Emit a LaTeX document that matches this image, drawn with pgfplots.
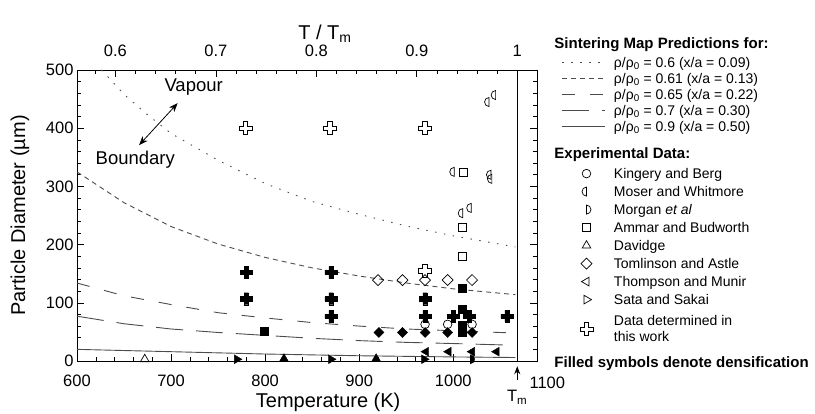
\documentclass[border=0pt]{standalone}
\usepackage{pgfplots}
\pgfplotsset{compat=1.18}
\usetikzlibrary{arrows.meta}
\usepackage{fontspec}
\setmainfont{Liberation Sans}

% marks
\pgfdeclareplotmark{moser}{%
  \pgfpathmoveto{\pgfqpoint{0pt}{\pgfplotmarksize}}%
  \pgfpatharc{90}{270}{\pgfplotmarksize}%
  \pgfpathclose\pgfusepathqstroke}
\pgfdeclareplotmark{morgan}{%
  \pgfpathmoveto{\pgfqpoint{0pt}{-\pgfplotmarksize}}%
  \pgfpatharc{-90}{90}{\pgfplotmarksize}%
  \pgfpathclose\pgfusepathqstroke}
\pgfdeclareplotmark{morgan*}{%
  \pgfpathmoveto{\pgfqpoint{0pt}{-\pgfplotmarksize}}%
  \pgfpatharc{-90}{90}{\pgfplotmarksize}%
  \pgfpathclose\pgfusepathqfillstroke}
\pgfdeclareplotmark{dia}{%
  \pgfpathmoveto{\pgfqpoint{0pt}{\pgfplotmarksize}}%
  \pgfpathlineto{\pgfqpoint{\pgfplotmarksize}{0pt}}%
  \pgfpathlineto{\pgfqpoint{0pt}{-\pgfplotmarksize}}%
  \pgfpathlineto{\pgfqpoint{-\pgfplotmarksize}{0pt}}%
  \pgfpathclose\pgfusepathqstroke}
\pgfdeclareplotmark{dia*}{%
  \pgfpathmoveto{\pgfqpoint{0pt}{\pgfplotmarksize}}%
  \pgfpathlineto{\pgfqpoint{\pgfplotmarksize}{0pt}}%
  \pgfpathlineto{\pgfqpoint{0pt}{-\pgfplotmarksize}}%
  \pgfpathlineto{\pgfqpoint{-\pgfplotmarksize}{0pt}}%
  \pgfpathclose\pgfusepathqfillstroke}
\newcommand\crosspath{%
  \pgfpathmoveto{\pgfpoint{0.35\pgfplotmarksize}{\pgfplotmarksize}}%
  \pgfpathlineto{\pgfpoint{0.35\pgfplotmarksize}{0.35\pgfplotmarksize}}%
  \pgfpathlineto{\pgfpoint{\pgfplotmarksize}{0.35\pgfplotmarksize}}%
  \pgfpathlineto{\pgfpoint{\pgfplotmarksize}{-0.35\pgfplotmarksize}}%
  \pgfpathlineto{\pgfpoint{0.35\pgfplotmarksize}{-0.35\pgfplotmarksize}}%
  \pgfpathlineto{\pgfpoint{0.35\pgfplotmarksize}{-\pgfplotmarksize}}%
  \pgfpathlineto{\pgfpoint{-0.35\pgfplotmarksize}{-\pgfplotmarksize}}%
  \pgfpathlineto{\pgfpoint{-0.35\pgfplotmarksize}{-0.35\pgfplotmarksize}}%
  \pgfpathlineto{\pgfpoint{-\pgfplotmarksize}{-0.35\pgfplotmarksize}}%
  \pgfpathlineto{\pgfpoint{-\pgfplotmarksize}{0.35\pgfplotmarksize}}%
  \pgfpathlineto{\pgfpoint{-0.35\pgfplotmarksize}{0.35\pgfplotmarksize}}%
  \pgfpathlineto{\pgfpoint{-0.35\pgfplotmarksize}{\pgfplotmarksize}}%
  \pgfpathclose}
\pgfdeclareplotmark{pcross}{\crosspath\pgfusepathqstroke}
\pgfdeclareplotmark{pcross*}{\crosspath\pgfusepathqfillstroke}

% strut: height, depth
\newcommand\st[2]{\rule[-#2]{0pt}{\dimexpr#1+#2\relax}}
\newcommand\hdr[1]{\makebox[0pt][l]{\hspace*{-60bp}\fontsize{15bp}{17bp}\selectfont\bfseries #1}}

\begin{document}
\begin{tikzpicture}
\path[use as bounding box] (0,0) rectangle (815bp,414bp);

% top axis: T / Tm
\begin{axis}[
  at={(77bp,53bp)}, anchor=south west, scale only axis,
  width=460bp, height=291bp,
  xmin=600, xmax=1089, ymin=0, ymax=500,
  axis x line*=top, axis y line=none,
  xtick={640.8,747.6,854.4,961.2,1068},
  xticklabels={0.6,0.7,0.8,0.9,1},
  minor xtick={619.44,662.16,683.52,704.88,726.24,768.96,790.32,811.68,833.04,875.76,897.12,918.48,939.84,982.56,1003.92,1025.28,1046.64},
  tick align=inside, major tick length=7bp, minor tick length=4bp,
  tick style={black, line width=0.6bp},
  ticklabel style={font=\fontsize{16.5bp}{19bp}\selectfont},
  xticklabel style={yshift=10bp},
  /pgf/number format/assume math mode=true,
  xlabel={T / T\textsubscript{m}},
  xlabel style={font=\fontsize{20bp}{24bp}\selectfont, at={(axis description cs:0.539,1.082)}, anchor=south},
]
\end{axis}

\begin{axis}[
  at={(77bp,53bp)}, anchor=south west, scale only axis,
  width=460bp, height=291bp,
  xmin=600, xmax=1089, ymin=0, ymax=500,
  xtick={600,700,800,900,1000}, minor x tick num=4, xtick pos=bottom,
  ytick={0,100,200,300,400,500}, minor y tick num=4,
  tick align=inside, major tick length=7bp, minor tick length=4bp,
  tick style={black, line width=0.6bp},
  axis line style={line width=0.8bp},
  ticklabel style={font=\fontsize{16.5bp}{19bp}\selectfont},
  xticklabel style={yshift=-10bp},
  /pgf/number format/assume math mode=true,
  /pgf/number format/1000 sep={},
  xlabel={Temperature (K)},
  ylabel={Particle Diameter (µm)},
  xlabel style={font=\fontsize{20bp}{24bp}\selectfont, at={(axis description cs:0.546,-0.141)}, anchor=center},
  ylabel style={font=\fontsize{20bp}{24bp}\selectfont, at={(axis description cs:-0.124,0.5)}, anchor=center},
  clip=false,
  legend cell align=left,
  legend image code/.code={\draw[yshift=5bp,mark repeat=2,mark phase=2,#1] plot coordinates {(0bp,0bp) (24bp,0bp) (43bp,0bp)};},
  legend style={draw=none, fill=none, at={(1.054,1.1155)}, anchor=north west,
    inner sep=0pt, font=\fontsize{14bp}{16bp}\selectfont, column sep=8bp, row sep=0pt,
    cells={anchor=base west}, nodes={inner sep=0pt, text depth=}},
]

\addlegendimage{empty legend}
\addlegendentry{\st{12bp}{8bp}\hdr{Sintering Map Predictions for:}}

% sintering map predictions
\addplot[no marks, black!70, line width=0.9bp, dash pattern=on 1.5bp off 7.5bp] coordinates {
  (626,500) (650,458) (675,423) (700,391) (750,345) (800,305) (850,274)
  (900,252) (950,232) (1000,215) (1066,196)
};
\addlegendentry{\st{11bp}{5bp}ρ/ρ\textsubscript{0} = 0.6 (x/a = 0.09)}
\addplot[no marks, black!70, line width=0.9bp, dash pattern=on 5bp off 4bp] coordinates {
  (600,325) (650,272) (700,231) (750,201) (800,178) (850,160) (900,146)
  (950,134) (1000,124) (1066,114)
};
\addlegendentry{\st{11bp}{5bp}ρ/ρ\textsubscript{0} = 0.61 (x/a = 0.13)}
\addplot[no marks, black!70, line width=0.9bp, dash pattern=on 13bp off 15bp] coordinates {
  (600,134) (650,112) (700,97) (750,83) (800,74) (850,66) (900,60)
  (950,55) (1000,52) (1066,48)
};
\addlegendentry{\st{11bp}{5bp}ρ/ρ\textsubscript{0} = 0.65 (x/a = 0.22)}
\addplot[no marks, black!70, line width=0.9bp, dash pattern=on 27bp off 13bp] coordinates {
  (600,77) (650,64) (700,55) (750,49) (800,44) (850,39) (900,35)
  (950,32) (1000,30) (1066,27)
};
\addlegendentry{\st{11bp}{5bp}ρ/ρ\textsubscript{0} = 0.7 (x/a = 0.30)}
\addplot[no marks, black!70, line width=0.9bp] coordinates {
  (600,20) (700,16) (800,12) (900,9) (1000,7) (1066,6)
};
\addlegendentry{\st{11bp}{5bp}ρ/ρ\textsubscript{0} = 0.9 (x/a = 0.50)}

\addlegendimage{empty legend}
\addlegendentry{\st{22bp}{8bp}\hdr{Experimental Data:}}

% experimental data, open symbols
\addplot[only marks, mark=o, mark size=4.3bp, mark options={black, line width=0.7bp}] coordinates {
  (970,63) (994,63) (1020,63)
};
\addlegendentry{\st{12bp}{6bp}Kingery and Berg}
\addplot[only marks, mark=moser, mark size=4.5bp, mark options={black, line width=0.7bp}] coordinates {
  (1038,445) (1045,457) (1001,325) (1040,320) (1041,313) (1010,254) (1019,263)
};
\addlegendentry{\st{12bp}{6bp}Moser and Whitmore}
\addlegendimage{only marks, mark=morgan, mark size=4.5bp, mark options={black, line width=0.7bp}}
\addlegendentry{\st{12bp}{6bp}Morgan \textit{et al}}
\addplot[only marks, mark=square, mark size=4bp, mark options={black, line width=0.7bp}] coordinates {
  (1011,325) (1010,230) (1010,180)
};
\addlegendentry{\st{12bp}{6bp}Ammar and Budworth}
\addplot[only marks, mark=triangle, mark size=5bp, mark options={black, line width=0.7bp}] coordinates {
  (672,3)
};
\addlegendentry{\st{12bp}{6bp}Davidge}
\addplot[only marks, mark=dia, mark size=5.5bp, mark options={black, line width=0.7bp}] coordinates {
  (920,139) (946,139) (970,139) (994,139) (1020,139)
};
\addlegendentry{\st{12bp}{6bp}Tomlinson and Astle}
\addlegendimage{only marks, mark=triangle, mark size=5bp, mark options={black, line width=0.7bp, rotate=90}}
\addlegendentry{\st{12bp}{6bp}Thompson and Munir}
\addlegendimage{only marks, mark=triangle, mark size=5bp, mark options={black, line width=0.7bp, rotate=-90}}
\addlegendentry{\st{12bp}{10bp}Sata and Sakai}
\addplot[only marks, mark=pcross, mark size=6.5bp, mark options={black, line width=0.7bp}] coordinates {
  (779,400) (869,400) (970,400) (970,155)
};
\addlegendentry{\begin{tabular}[c]{@{}l@{}}Data determined in\\this work\end{tabular}}

\addlegendimage{empty legend}
\addlegendentry{\st{21bp}{5bp}\hdr{Filled symbols denote densification}}

% filled symbols: densification
\addplot[only marks, forget plot, mark=square*, mark size=4bp, mark options={black, fill=black}] coordinates {
  (1010,125) (1010,89) (1010,62) (1010,50) (799,51)
};
\addplot[only marks, forget plot, mark=triangle*, mark size=5bp, mark options={black, fill=black}] coordinates {
  (820,4) (918,4)
};
\addplot[only marks, forget plot, mark=dia*, mark size=5bp, mark options={black, fill=black}] coordinates {
  (921,49) (946,49) (970,49) (994,49) (1020,49)
};
\addplot[only marks, forget plot, mark=triangle*, mark size=5bp, mark options={black, fill=black, rotate=90}] coordinates {
  (971,16) (995,16) (1020,16) (1046,16)
};
\addplot[only marks, forget plot, mark=triangle*, mark size=5bp, mark options={black, fill=black, rotate=-90}] coordinates {
  (770,3) (870,3) (969,3)
};
\addplot[only marks, forget plot, mark=morgan*, mark size=4.5bp, mark options={black, fill=black}] coordinates {
  (1018,3)
};
\addplot[only marks, forget plot, mark=pcross*, mark size=6bp, mark options={black, fill=black}] coordinates {
  (780,152) (780,107) (870,152) (870,107) (870,77)
  (970,107) (970,77) (1000,77) (1017,77) (1057,77)
};

% melting point
\addplot[forget plot, no marks, black, line width=0.8bp] coordinates {(1068,0) (1068,500)};
\draw[-{Stealth[length=8bp,width=6bp]}, line width=0.8bp] (axis cs:1068,-33) -- (axis cs:1068,-9);
\node[font=\fontsize{16.5bp}{19bp}\selectfont] at (axis cs:1068,-62) {T\textsubscript{m}};
\node[font=\fontsize{16.5bp}{19bp}\selectfont, anchor=center] at (axis cs:1100,-37) {1100};

% vapour boundary annotation
\draw[{Stealth[length=9bp,width=7bp]}-{Stealth[length=9bp,width=7bp]}, line width=0.8bp]
  (axis cs:666,371) -- (axis cs:707,443);
\node[font=\fontsize{18.5bp}{22bp}\selectfont] at (axis cs:724,471) {Vapour};
\node[font=\fontsize{18.5bp}{22bp}\selectfont] at (axis cs:662,345) {Boundary};

\end{axis}
\end{tikzpicture}
\end{document}
